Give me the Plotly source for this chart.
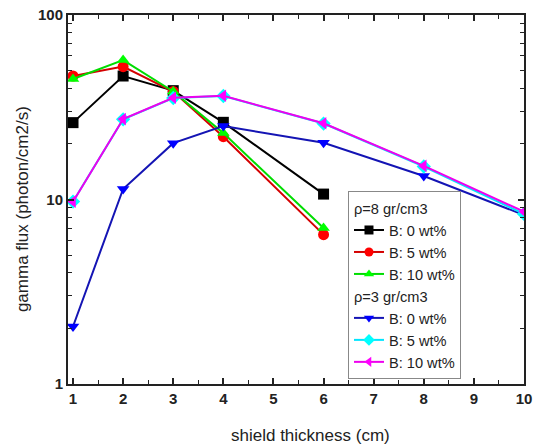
import plotly.graph_objects as go

# Shield thickness (cm)
thick_8 = [1, 2, 3, 4, 6]
thick_3 = [1, 2, 3, 4, 6, 8, 10]

# Gamma flux (photon/cm2/s), rho = 8 gr/cm3
flux_8_b0 = [26.1, 46.7, 38.9, 26.2, 10.7]
flux_8_b5 = [46.7, 52.5, 38.5, 21.9, 6.45]
flux_8_b10 = [45.0, 57.0, 38.5, 22.9, 7.0]

# Gamma flux (photon/cm2/s), rho = 3 gr/cm3
flux_3_b0 = [2.05, 11.4, 20.2, 25.0, 20.3, 13.4, 8.24]
flux_3_b5 = [9.75, 27.2, 35.5, 36.4, 25.8, 15.1, 8.35]
flux_3_b10 = [9.73, 27.3, 35.6, 36.5, 25.9, 15.2, 8.59]

x_ticks = [1, 2, 3, 4, 5, 6, 7, 8, 9, 10]
y_ticks = [1, 10, 100]
y_minor = [m * d for d in (1, 10) for m in range(2, 10)]

series = [
    ("rho8", "\u03c1=8 gr/cm3", "B: 0 wt%", thick_8, flux_8_b0, "#000000", "#000000", "square"),
    ("rho8", "\u03c1=8 gr/cm3", "B: 5 wt%", thick_8, flux_8_b5, "#d40000", "#ff0000", "circle"),
    ("rho8", "\u03c1=8 gr/cm3", "B: 10 wt%", thick_8, flux_8_b10, "#00dd00", "#00ff00", "triangle-up"),
    ("rho3", "\u03c1=3 gr/cm3", "B: 0 wt%", thick_3, flux_3_b0, "#1414b4", "#0000ff", "triangle-down"),
    ("rho3", "\u03c1=3 gr/cm3", "B: 5 wt%", thick_3, flux_3_b5, "#00e5ff", "#00ffff", "diamond"),
    ("rho3", "\u03c1=3 gr/cm3", "B: 10 wt%", thick_3, flux_3_b10, "#ee00ee", "#ff00ff", "triangle-left"),
]

LEGEND_SIZE = 14.6

fig = go.Figure()
for group, gtitle, name, xs, ys, lcol, mcol, sym in series:
    # data curve
    fig.add_trace(go.Scatter(
        x=xs, y=ys, name=name, mode="lines+markers", showlegend=False,
        line=dict(color=lcol, width=2),
        marker=dict(symbol=sym, size=11, color=mcol, line=dict(width=0)),
    ))
    # legend entry with a smaller symbol
    fig.add_trace(go.Scatter(
        x=[None], y=[None], name=name, mode="lines+markers",
        legendgroup=group,
        legendgrouptitle=dict(text=gtitle, font=dict(size=LEGEND_SIZE, color="#222")),
        line=dict(color=lcol, width=2),
        marker=dict(symbol=sym, size=9, color=mcol, line=dict(width=0)),
    ))

FAMILY = "Liberation Sans, Arial"
axis_font = dict(family=FAMILY, size=15, color="#222", weight="bold")

fig.update_layout(
    width=536, height=445,
    margin=dict(l=68, r=12, t=15, b=61, autoexpand=False),
    paper_bgcolor="white", plot_bgcolor="white",
    font=dict(family=FAMILY, color="#222"),
    showlegend=True,
    legend=dict(
        x=0.614, y=0.523, xanchor="left", yanchor="top",
        bgcolor="white", bordercolor="#888", borderwidth=1,
        font=dict(size=LEGEND_SIZE, color="#222"),
        traceorder="grouped", tracegroupgap=0,
        itemwidth=30,
    ),
    xaxis=dict(
        range=[0.9, 10], tickvals=x_ticks, ticktext=[str(v) for v in x_ticks],
        ticks="inside", ticklen=6, tickwidth=1.5, tickcolor="#222",
        showline=True, linecolor="#222", linewidth=2, mirror="ticks",
        showgrid=False, zeroline=False, automargin=False,
        tickfont=axis_font,
        minor=dict(tick0=1, dtick=0.5, ticks="inside", ticklen=4, tickwidth=1.2, tickcolor="#222", showgrid=False),
    ),
    yaxis=dict(
        type="log", range=[0, 2], tickvals=y_ticks, ticktext=[str(v) for v in y_ticks],
        ticks="inside", ticklen=6, tickwidth=1.5, tickcolor="#222",
        showline=True, linecolor="#222", linewidth=2, mirror="ticks",
        showgrid=False, zeroline=False, automargin=False,
        tickfont=axis_font,
        minor=dict(tickvals=y_minor, ticks="inside", ticklen=4, tickwidth=1.2, tickcolor="#222", showgrid=False),
    ),
    annotations=[
        dict(text="shield thickness (cm)", xref="paper", yref="paper",
             x=0.531, y=0, xanchor="center", yanchor="middle", yshift=-51,
             showarrow=False, font=dict(family=FAMILY, size=17, color="#222")),
        dict(text="gamma flux (photon/cm2/s)", xref="paper", yref="paper",
             x=0, y=0.474, xanchor="center", yanchor="middle", xshift=-46,
             textangle=-90, showarrow=False, font=dict(family=FAMILY, size=17, color="#222")),
    ],
)

fig.write_html("out.html")
